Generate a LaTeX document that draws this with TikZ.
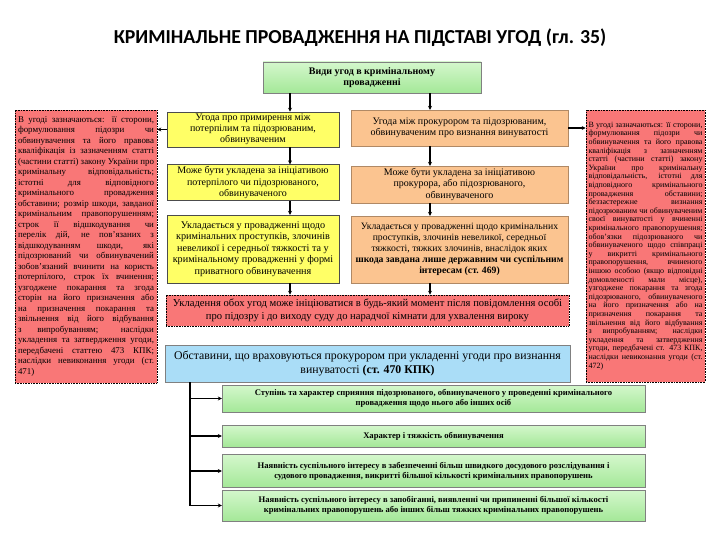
\documentclass[tikz,border=0pt]{standalone}
\usepackage{fontspec}
\setmainfont{Liberation Serif}
\newfontfamily\titlefont{Carlito}
\usetikzlibrary{arrows.meta}
\definecolor{ylw}{HTML}{FFFF66}
\definecolor{org}{HTML}{FBC490}
\definecolor{rd}{HTML}{F97777}
\definecolor{bl}{HTML}{AADDF7}
\definecolor{gnA}{HTML}{D4F7CC}
\definecolor{gnB}{HTML}{A4E898}
\tikzset{
  box/.style={inner sep=2pt, align=center, font=\fontsize{10}{11.2}\selectfont},
  ybox/.style={box, fill=ylw, draw=black!70, line width=0.4pt},
  obox/.style={box, fill=org, draw=org!70!black, line width=0.3pt},
  rbox/.style={box, fill=rd, draw=black, densely dotted, line width=0.6pt},
  gbox/.style={box, top color=gnA, bottom color=gnB, draw=black!50, line width=0.3pt},
  gtext/.style={font=\bfseries\fontsize{8.6}{10}\selectfont},
  conn/.style={line width=1.1pt, -{Stealth[length=4pt,width=4pt]}},
  pl/.style={line width=1.1pt}
}
\begin{document}
\begin{tikzpicture}[x=1pt,y=-1pt]
\useasboundingbox[fill=white] (0,0) rectangle (720,540);
\node[font=\titlefont\bfseries\fontsize{19.8}{22}\selectfont] (title) at (360,38) {КРИМІНАЛЬНЕ ПРОВАДЖЕННЯ НА ПІДСТАВІ УГОД (гл. 35)};

\node[gbox, minimum width=218pt, minimum height=31pt, font=\bfseries\fontsize{10}{11.5}\selectfont] (top) at (372,77.5) {Види угод в кримінальному\\провадженні};

\node[ybox, minimum width=172pt, minimum height=35pt] (y1) at (253,129.5) {Угода про примирення між\\потерпілим та підозрюваним,\\обвинуваченим};
\node[ybox, minimum width=172pt, minimum height=33pt] (y2) at (253,182.5) {Може бути укладена за ініціативою\\потерпілого чи підозрюваного,\\обвинуваченого};
\node[ybox, minimum width=172pt, minimum height=68pt, font=\fontsize{10.2}{11.6}\selectfont] (y3) at (253,249) {Укладається у провадженні щодо\\кримінальних проступків, злочинів\\невеликої і середньої тяжкості та у\\кримінальному провадженні у формі\\приватного обвинувачення};

\node[obox, minimum width=217pt, minimum height=36pt] (o1) at (459.5,128) {Угода між прокурором та підозрюваним,\\обвинуваченим про визнання винуватості};
\node[obox, minimum width=217pt, minimum height=37pt] (o2) at (459.5,184.5) {Може бути укладена за ініціативою\\прокурора, або підозрюваного,\\обвинуваченого};
\node[obox, minimum width=217pt, minimum height=67pt, font=\fontsize{9.7}{11}\selectfont] (o3) at (459.5,249.5) {Укладається у провадженні щодо кримінальних\\проступків, злочинів невеликої, середньої\\тяжкості, тяжких злочинів, внаслідок яких\\\textbf{шкода завдана лише державним чи суспільним}\\\textbf{інтересам (ст. 469)}};

\node[rbox, minimum width=142pt, minimum height=273pt, text width=136pt, align=justify, font=\fontsize{8.9}{10.5}\selectfont] (lr) at (86,246.5) {\sloppy В угоді зазначаються: її сторони, формулювання підозри чи обвинувачення та його правова кваліфікація із зазначенням статті (частини статті) закону України про кримінальну відповідальність; істотні для відповідного кримінального провадження обставини; розмір шкоди, завданої кримінальним правопорушенням; строк її відшкодування чи перелік дій, не пов'язаних з відшкодуванням шкоди, які підозрюваний чи обвинувачений зобов'язаний вчинити на користь потерпілого, строк їх вчинення; узгоджене покарання та згода сторін на його призначення або на призначення покарання та звільнення від його відбування з випробуванням; наслідки укладення та затвердження угоди, передбачені статтею 473 КПК; наслідки невиконання угоди (ст. 471)};

\node[rbox, minimum width=119pt, minimum height=272pt, text width=114pt, align=justify, font=\fontsize{8.0}{8.6}\selectfont] (rr) at (645.5,246) {\sloppy В угоді зазначаються: її сторони, формулювання підозри чи обвинувачення та його правова кваліфікація з зазначенням статті (частини статті) закону України про кримінальну відповідальність, істотні для відповідного кримінального провадження обставини; беззастережне визнання підозрюваним чи обвинуваченим своєї винуватості у вчиненні кримінального правопорушення; обов'язки підозрюваного чи обвинуваченого щодо співпраці у викритті кримінального правопорушення, вчиненого іншою особою (якщо відповідні домовленості мали місце), узгоджене покарання та згода підозрюваного, обвинуваченого на його призначення або на призначення покарання та звільнення від його відбування з випробуванням; наслідки укладення та затвердження угоди, передбачені ст. 473 КПК, наслідки невиконання угоди (ст. 472)};

\node[rbox, minimum width=403pt, minimum height=31pt, font=\fontsize{10.6}{12.5}\selectfont] (rb) at (367.5,310.5) {Укладення обох угод може ініціюватися в будь-який момент після повідомлення особі\\про підозру і до виходу суду до нарадчої кімнати для ухвалення вироку};

\node[box, fill=bl, draw=black!50, line width=0.3pt, minimum width=405pt, minimum height=37pt, font=\fontsize{11.8}{14}\selectfont] (bb) at (367.5,363.5) {Обставини, що враховуються прокурором при укладенні угоди про визнання\\винуватості \textbf{(ст. 470 КПК)}};

\node[gbox, gtext, minimum width=423pt, minimum height=27pt] (g1) at (433.5,398.5) {Ступінь та характер сприяння підозрюваного, обвинуваченого у проведенні кримінального\\провадження щодо нього або інших осіб};
\node[gbox, gtext, minimum width=423pt, minimum height=22pt] (g2) at (433.5,436) {Характер і тяжкість обвинувачення};
\node[gbox, gtext, minimum width=423pt, minimum height=33pt] (g3) at (433.5,471) {Наявність суспільного інтересу в забезпеченні більш швидкого досудового розслідування і\\судового провадження, викритті більшої кількості кримінальних правопорушень};
\node[gbox, gtext, minimum width=423pt, minimum height=31pt] (g4) at (433.5,505.5) {Наявність суспільного інтересу в запобіганні, виявленні чи припиненні більшої кількості\\кримінальних правопорушень або інших більш тяжких кримінальних правопорушень};

\coordinate (ax) at (290,0);
\coordinate (bx) at (430,0);
\coordinate (vx) at (190,0);

\draw[conn] (top.south -| ax) -- (y1.north -| ax);
\draw[conn] (top.south -| bx) -- (o1.north -| bx);
\draw[conn] (y1.south -| ax) -- (y2.north -| ax);
\draw[conn] (y2.south -| ax) -- (y3.north -| ax);
\draw[conn] (y3.south -| ax) -- (rb.north -| ax);
\draw[conn] (o1.south -| bx) -- (o2.north -| bx);
\draw[conn] (o2.south -| bx) -- (o3.north -| bx);
\draw[conn] (o3.south -| bx) -- (rb.north -| bx);
\draw[conn] (y1.west) -- (y1.west -| lr.east);
\draw[conn] (o1.east) -- (o1.east -| rr.west);

\draw[pl] (bb.south -| vx) -- (g4.west -| vx);
\draw[conn] (g1.west -| vx) -- (g1.west);
\draw[conn] (g2.west -| vx) -- (g2.west);
\draw[conn] (g3.west -| vx) -- (g3.west);
\draw[conn] (g4.west -| vx) -- (g4.west);
\end{tikzpicture}
\end{document}
